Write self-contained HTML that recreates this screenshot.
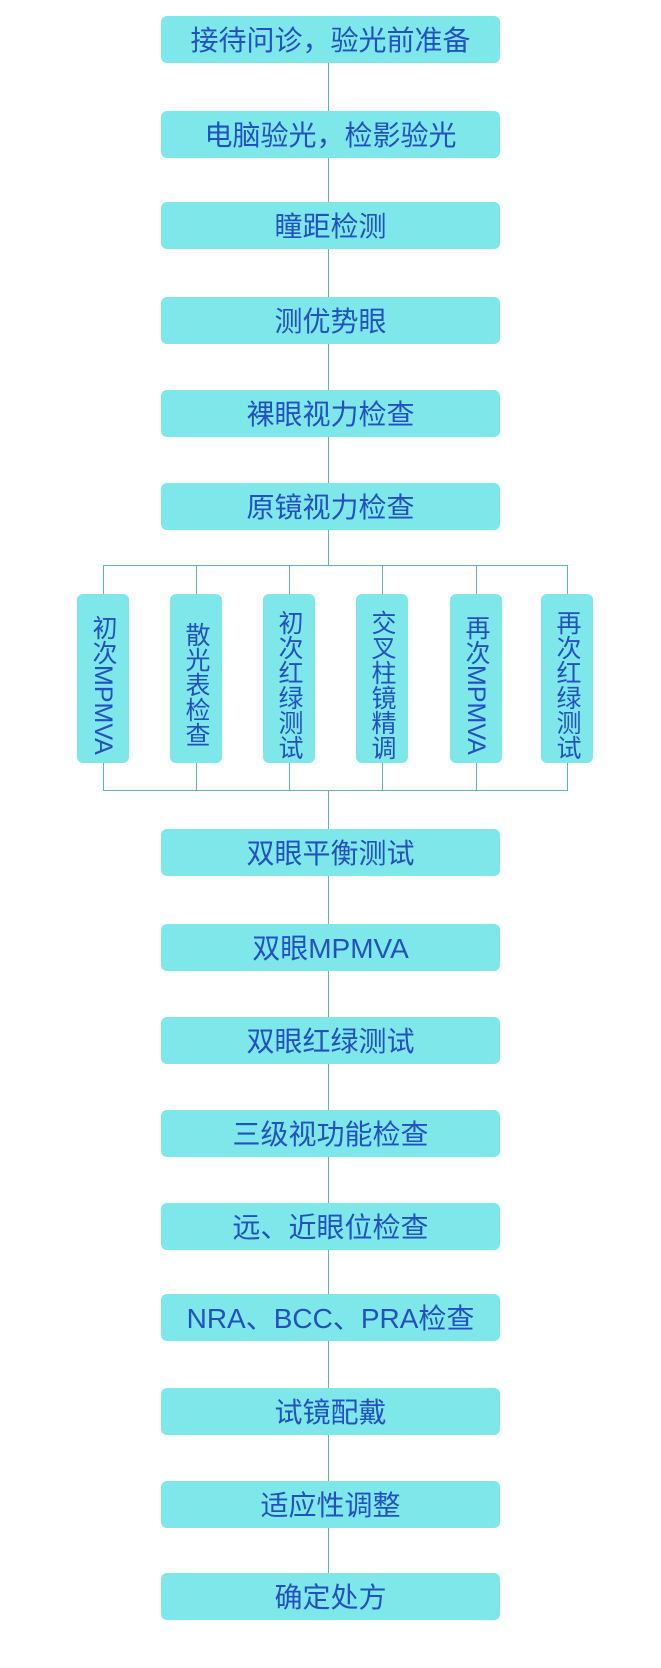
<!DOCTYPE html>
<html><head><meta charset="utf-8"><style>
body{margin:0;width:661px;height:1668px;background:#fff;position:relative;overflow:hidden;font-family:"Liberation Sans","Noto Sans CJK SC",sans-serif;}
.b{position:absolute;left:161px;width:339px;height:47px;background:#7ee7ea;border-radius:6px;color:#2350c0;font-size:28px;line-height:49px;text-align:center;}
.s{position:absolute;top:594px;width:52px;height:169px;background:#7ee7ea;border-radius:6px;color:#2350c0;font-size:25px;line-height:52px;text-align:center;writing-mode:vertical-rl;white-space:nowrap;padding-top:12px;box-sizing:border-box;}
.l{position:absolute;background:#5eb4b8;}
</style></head><body>
<div class="l" style="left:328px;top:40px;width:1px;height:525px"></div>
<div class="l" style="left:328px;top:790px;width:1px;height:800px"></div>
<div class="l" style="left:103px;top:565px;width:465px;height:1px"></div>
<div class="l" style="left:103px;top:790px;width:465px;height:1px"></div>
<div class="l" style="left:103px;top:565px;width:1px;height:225px"></div>
<div class="l" style="left:196px;top:565px;width:1px;height:225px"></div>
<div class="l" style="left:289px;top:565px;width:1px;height:225px"></div>
<div class="l" style="left:382px;top:565px;width:1px;height:225px"></div>
<div class="l" style="left:476px;top:565px;width:1px;height:225px"></div>
<div class="l" style="left:567px;top:565px;width:1px;height:225px"></div>
<div class="b" style="top:16px">接待问诊，验光前准备</div>
<div class="b" style="top:111px">电脑验光，检影验光</div>
<div class="b" style="top:202px">瞳距检测</div>
<div class="b" style="top:297px">测优势眼</div>
<div class="b" style="top:390px">裸眼视力检查</div>
<div class="b" style="top:483px">原镜视力检查</div>
<div class="s" style="left:77px">初次MPMVA</div>
<div class="s" style="left:170px">散光表检查</div>
<div class="s" style="left:263px">初次红绿测试</div>
<div class="s" style="left:356px">交叉柱镜精调</div>
<div class="s" style="left:450px">再次MPMVA</div>
<div class="s" style="left:541px">再次红绿测试</div>
<div class="b" style="top:829px">双眼平衡测试</div>
<div class="b" style="top:924px">双眼MPMVA</div>
<div class="b" style="top:1017px">双眼红绿测试</div>
<div class="b" style="top:1110px">三级视功能检查</div>
<div class="b" style="top:1203px">远、近眼位检查</div>
<div class="b" style="top:1294px">NRA、BCC、PRA检查</div>
<div class="b" style="top:1388px">试镜配戴</div>
<div class="b" style="top:1481px">适应性调整</div>
<div class="b" style="top:1573px">确定处方</div>
</body></html>
